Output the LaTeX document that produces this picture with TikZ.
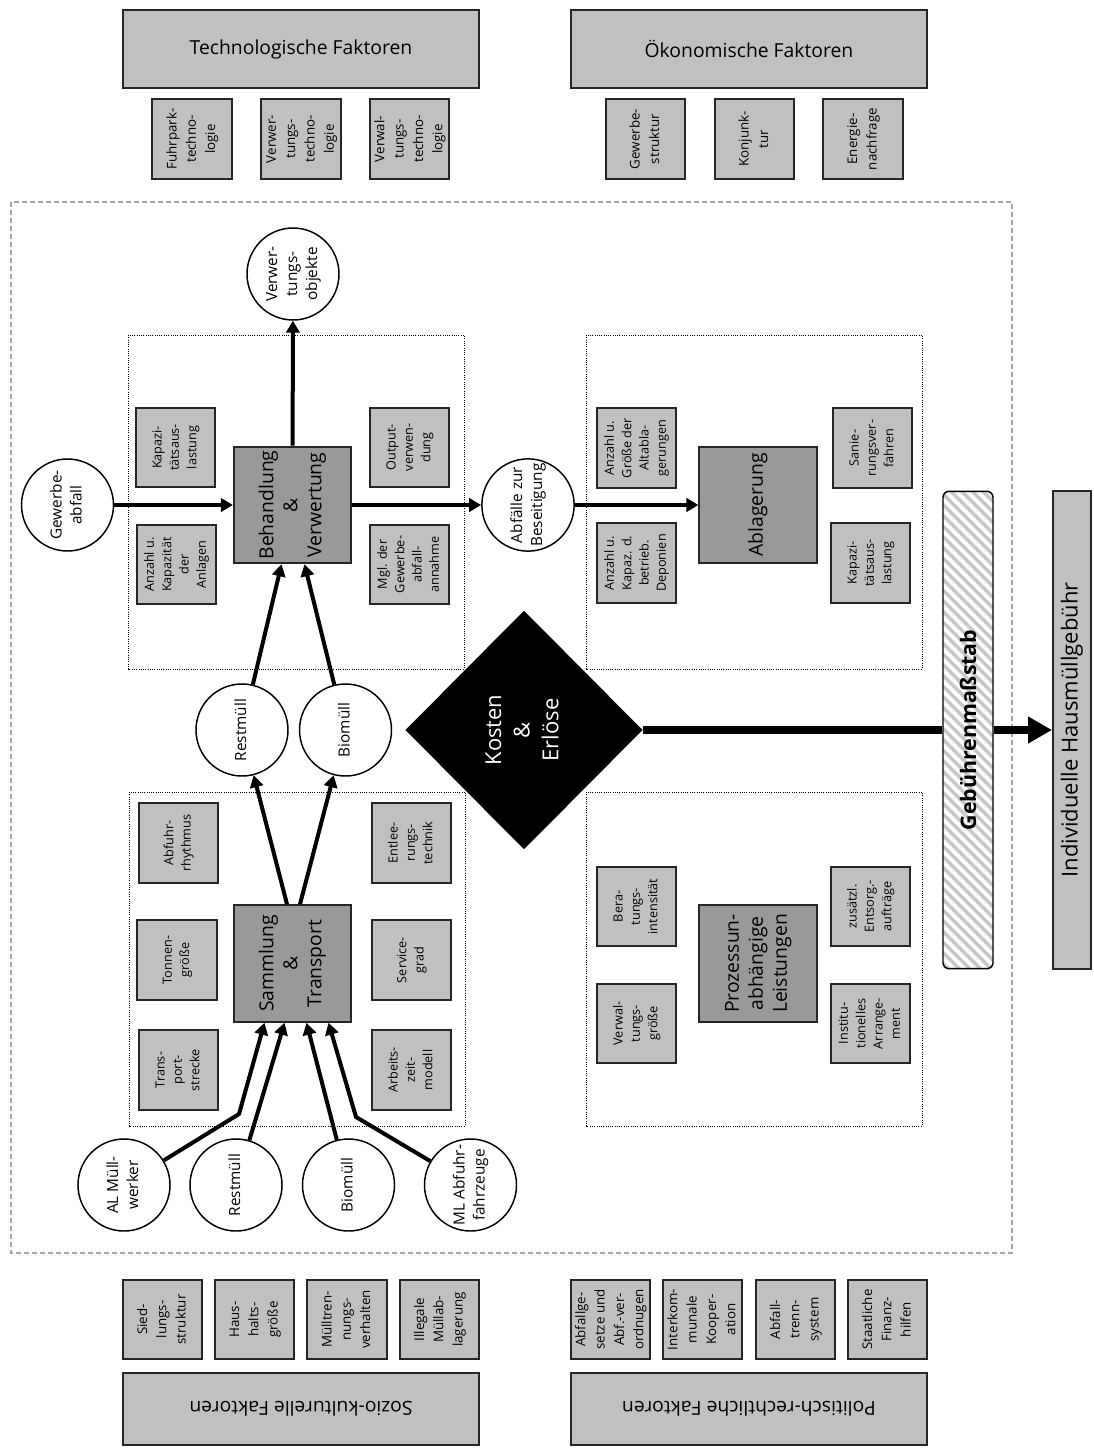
\documentclass[tikz,border=0pt]{standalone}
\usepackage{graphicx}
\usepackage{fontspec}
\setmainfont{Open Sans}
\usetikzlibrary{arrows.meta,shapes.geometric,calc}
\definecolor{lg}{HTML}{C0C0C0}
\definecolor{dg}{HTML}{999999}
\definecolor{bd}{HTML}{262626}
\definecolor{hatchc}{HTML}{C8C8C8}
\definecolor{dashc}{HTML}{A6A6A6}
\newcommand{\rt}[1]{\rotatebox{90}{\begin{tabular}{@{}c@{}}#1\end{tabular}}}
\begin{document}
\begin{tikzpicture}[x=0.75pt,y=-0.75pt,
 sq/.style={draw=bd,line width=1.4pt,fill=lg,minimum width=59.5pt,minimum height=59.5pt,inner sep=0pt,font=\fontsize{9.5}{13}\selectfont},
 fsq/.style={sq,font=\fontsize{10}{14.5}\selectfont},
 dk/.style={draw=bd,line width=1.4pt,fill=dg,minimum width=88pt,minimum height=87.5pt,inner sep=0pt,font=\fontsize{14.5}{18}\selectfont},
 ttl/.style={draw=bd,line width=1.4pt,fill=lg,minimum width=267pt,minimum height=58.5pt,inner sep=0pt,font=\fontsize{14.5}{17}\selectfont},
 circ/.style={circle,draw=black,line width=1.1pt,fill=white,minimum size=69pt,inner sep=0pt,font=\fontsize{11.5}{15}\selectfont},
 dotbox/.style={draw=black,densely dotted,line width=0.7pt},
 outerframe/.style={draw=dashc,dash pattern=on 4pt off 2pt,line width=0.9pt},
 arr/.style={line width=3pt,line join=miter,-{Triangle[length=9pt,width=10pt]}},
]
\useasboundingbox (0,0) rectangle (1094,1448);
% frames
\draw[outerframe] (11,202) rectangle (1012,1253);
\draw[dotbox] (128,335) rectangle (464,669);
\draw[dotbox] (586,335) rectangle (922,669);
\draw[dotbox] (129,792) rectangle (465,1126);
\draw[dotbox] (586,792) rectangle (922,1126);

% outer factors
\node[ttl] (tf) at (301,49) {Technologische Faktoren};
\node[ttl] (of) at (749,49) {Ökonomische Faktoren};
\node[ttl,minimum height=54pt] (sf) at (301,1409) {\rotatebox{180}{Sozio-kulturelle Faktoren}};
\node[ttl,minimum height=54pt] (pf) at (749,1409) {\rotatebox{180}{Politisch-rechtliche Faktoren}};

\node[fsq] (t1) at (192,139) {\rt{Fuhrpark-\\techno-\\logie}};
\node[fsq] (t2) at (301,139) {\rt{Verwer-\\tungs-\\techno-\\logie}};
\node[fsq] (t3) at (409.5,139) {\rt{Verwal-\\tungs-\\techno-\\logie}};
\node[fsq] (o1) at (645.5,139) {\rt{Gewerbe-\\struktur}};
\node[fsq] (o2) at (754.5,139) {\rt{Konjunk-\\tur}};
\node[fsq] (o3) at (863,139) {\rt{Energie-\\nachfrage}};

\node[fsq] (s1) at (162.5,1319.5) {\rt{Sied-\\lungs-\\struktur}};
\node[fsq] (s2) at (254.5,1319.5) {\rt{Haus-\\halts-\\größe}};
\node[fsq] (s3) at (347,1319.5) {\rt{Mülltren-\\nungs-\\verhalten}};
\node[fsq] (s4) at (439.5,1319.5) {\rt{Illegale\\Müllab-\\lagerung}};
\node[fsq] (p1) at (610.5,1319.5) {\rt{Abfallge-\\setze und\\Abf.-ver-\\ordnugen}};
\node[fsq] (p2) at (702.5,1319.5) {\rt{Interkom-\\munale\\Kooper-\\ation}};
\node[fsq] (p3) at (795.5,1319.5) {\rt{Abfall-\\trenn-\\system}};
\node[fsq] (p4) at (887.5,1319.5) {\rt{Staatliche\\Finanz-\\hilfen}};

% Behandlung area
\node[sq] (b1) at (175.5,447.5) {\rt{Kapazi-\\tätsaus-\\lastung}};
\node[sq] (b2) at (176.5,564.5) {\rt{Anzahl u.\\Kapazität\\der\\Anlagen}};
\node[sq] (b3) at (409.5,447.5) {\rt{Output-\\verwen-\\dung}};
\node[sq] (b4) at (409.5,564.5) {\rt{Mgl. der\\Gewerbe-\\abfall-\\annahme}};
\node[dk] (beh) at (292.5,505) {\rt{Behandlung\\\&\\Verwertung}};

% Ablagerung area
\node[sq] (a1) at (636.5,448) {\rt{Anzahl u.\\Größe der\\Altabla-\\gerungen}};
\node[sq] (a2) at (636.5,563) {\rt{Anzahl u.\\Kapaz. d.\\betrieb.\\Deponien}};
\node[sq] (a3) at (872.5,448) {\rt{Sanie-\\rungsver-\\fahren}};
\node[sq] (a4) at (870.5,563) {\rt{Kapazi-\\tätsaus-\\lastung}};
\node[dk] (abl) at (758,505) {\rt{Ablagerung}};

% Sammlung area
\node[sq] (c1) at (178.5,843) {\rt{Abfuhr-\\rhythmus}};
\node[sq] (c2) at (411.5,843) {\rt{Entlee-\\rungs-\\technik}};
\node[sq] (c3) at (177,960) {\rt{Tonnen-\\größe}};
\node[sq] (c4) at (411.5,960) {\rt{Service-\\grad}};
\node[sq] (c5) at (178.5,1070) {\rt{Trans-\\port-\\strecke}};
\node[sq] (c6) at (411.5,1070) {\rt{Arbeits-\\zeit-\\modell}};
\node[dk] (st) at (292.5,963.5) {\rt{Sammlung\\\&\\Transport}};

% Prozessunabhaengige area
\node[sq] (u1) at (636.5,906.5) {\rt{Bera-\\tungs-\\intensität}};
\node[sq] (u2) at (870.5,906.5) {\rt{zusätzl.\\Entsorg.-\\aufträge}};
\node[sq] (u3) at (636.5,1023.5) {\rt{Verwal-\\tungs-\\größe}};
\node[sq] (u4) at (870.5,1023.5) {\rt{Institu-\\tionelles\\Arrange-\\ment}};
\node[dk] (pu) at (758,963.5) {\rt{Prozessun-\\abhängige\\Leistungen}};

% circles
\node[circ] (vo) at (293,274) {\rt{Verwer-\\tungs-\\objekte}};
\node[circ] (gw) at (67.5,505) {\rt{Gewerbe-\\abfall}};
\node[circ] (abf) at (528,505) {\rt{Abfälle zur\\Beseitigung}};
\node[circ] (rm) at (242,730) {\rt{Restmüll}};
\node[circ] (bm) at (345.5,730) {\rt{Biomüll}};
\node[circ] (al) at (124,1185) {\rt{AL Müll-\\werker}};
\node[circ] (rm2) at (236,1185) {\rt{Restmüll}};
\node[circ] (bm2) at (348.5,1185) {\rt{Biomüll}};
\node[circ] (ml) at (470.5,1185) {\rt{ML Abfuhr-\\fahrzeuge}};

% Kosten & Erloese
\node[diamond,fill=black,minimum width=178pt,minimum height=179pt,inner sep=0pt,text=white,font=\fontsize{16.5}{21.5}\selectfont] (ke) at (524,730) {\rt{Kosten\\\&\\Erlöse}};

% Gebuehrenmassstab
\node[draw=black,line width=1.1pt,rounded corners=4.5pt,fill=white,minimum width=37.5pt,minimum height=358pt,inner sep=0pt,font=\bfseries\fontsize{16}{19}\selectfont,
  path picture={\foreach \k in {0,...,56}{\draw[hatchc,line width=2.6pt] ($(path picture bounding box.north west)+(-2pt,{48pt-8pt*\k})$) -- ++(45pt,-45pt);}}] (gm) at (968,730) {\rotatebox{90}{Gebührenmaßstab}};

\node[draw=bd,line width=1.4pt,fill=lg,minimum width=28.5pt,minimum height=358pt,inner sep=0pt,font=\fontsize{16.5}{20}\selectfont] (ih) at (1072,730) {\rotatebox{90}{Individuelle Hausmüllgebühr}};

% connectors
\coordinate (ka) at (239,1114);
\coordinate (km) at (356,1117);
\draw[arr] (gw) -- (beh);
\draw[arr] (beh) -- (abf);
\draw[arr] (abf) -- (abl);
\draw[arr] (beh) -- (vo);
\draw[arr] (rm) -- ($(beh.south)+(-11,0)$);
\draw[arr] (bm) -- ($(beh.south)+(12,0)$);
\draw[arr] ($(st.north)+(-5.5,0)$) -- (rm);
\draw[arr] ($(st.north)+(7.5,0)$) -- (bm);
\draw[arr] (al) -- (ka) -- ($(st.south)+(-28,0)$);
\draw[arr] (rm2) -- ($(st.south)+(-8,0)$);
\draw[arr] (bm2) -- ($(st.south)+(14,0)$);
\draw[arr] (ml) -- (km) -- ($(st.south)+(36,0)$);
\draw[line width=6pt] (ke.east) -- (gm.west);
\draw[line width=6pt,-{Triangle[length=18pt,width=19pt]}] (gm.east) -- (ih.west);
\end{tikzpicture}
\end{document}
